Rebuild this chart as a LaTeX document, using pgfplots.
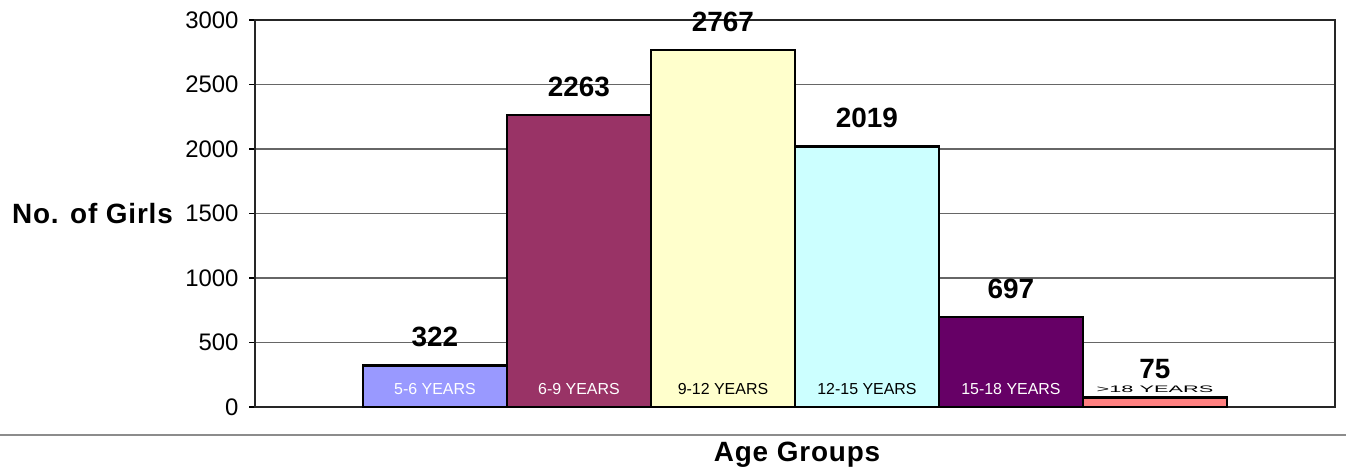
\documentclass[border=0pt]{standalone}
\usepackage{pgfplots}
\pgfplotsset{compat=1.18}
\usepackage{fontspec}
\usepackage{graphicx}
\setmainfont{Liberation Sans}
\newfontfamily\spaced[LetterSpace=3]{Liberation Sans}
\definecolor{c1}{HTML}{9999FF}
\definecolor{c2}{HTML}{993366}
\definecolor{c3}{HTML}{FFFFCC}
\definecolor{c4}{HTML}{CCFFFF}
\definecolor{c5}{HTML}{660066}
\definecolor{c6}{HTML}{FF8080}
\begin{document}
\begin{tikzpicture}
\useasboundingbox (0,0) rectangle (1346bp,470bp);
\draw[line width=2bp, color=black!45] (0,35bp) -- (1346bp,35bp);
\begin{axis}[
 at={(255bp,63bp)}, anchor=south west,
 scale only axis, width=1080bp, height=387bp,
 xmin=-1.25, xmax=6.25, ymin=0, ymax=3000,
 ytick={0,500,...,3000},
 xtick=\empty,
 ymajorgrids, grid style={line width=1.2bp, color=black!60},
 axis line style={line width=1.5bp, black!85},
 ytick pos=left, tick align=outside, major tick length=6bp,
 tick style={line width=1.2bp, black},
 yticklabel style={font=\fontsize{24}{26}\selectfont, xshift=-7bp},
 /pgf/number format/assume math mode=true,
 /pgf/number format/1000 sep={},
 ybar, bar width=1, bar shift=0pt,
 clip=false,
 bars/.style={draw=black, line width=2.5bp, nodes near coords, every node near coord/.style={font=\bfseries\fontsize{28}{30}\selectfont, anchor=base, yshift=19bp, inner sep=0pt, black}},
]
\addplot[bars, fill=c1] coordinates {(0,322)};
\addplot[bars, fill=c2] coordinates {(1,2263)};
\addplot[bars, fill=c3] coordinates {(2,2767)};
\addplot[bars, fill=c4] coordinates {(3,2019)};
\addplot[bars, fill=c5] coordinates {(4,697)};
\addplot[bars, fill=c6] coordinates {(5,75)};
\node[anchor=base, white, font=\fontsize{16}{18}\selectfont, yshift=12bp] at (axis cs:0,0) {5-6 YEARS};
\node[anchor=base, white, font=\fontsize{16}{18}\selectfont, yshift=12bp] at (axis cs:1,0) {6-9 YEARS};
\node[anchor=base, black, font=\fontsize{16}{18}\selectfont, yshift=12bp] at (axis cs:2,0) {9-12 YEARS};
\node[anchor=base, black, font=\fontsize{16}{18}\selectfont, yshift=12bp] at (axis cs:3,0) {12-15 YEARS};
\node[anchor=base, white, font=\fontsize{16}{18}\selectfont, yshift=12bp] at (axis cs:4,0) {15-18 YEARS};
\node[anchor=base, black, yshift=14bp] at (axis cs:5,0) {\scalebox{2.3}[1]{\fontsize{9.5}{11}\selectfont >18 YEARS}};
\end{axis}
\node[anchor=east, inner sep=0pt, font=\spaced\bfseries\fontsize{28}{30}\selectfont] at (173bp,256bp) {No. of Girls};
\node[anchor=base, inner sep=0pt, font=\spaced\bfseries\fontsize{28}{30}\selectfont] at (797bp,8.3bp) {Age Groups};
\end{tikzpicture}
\end{document}
